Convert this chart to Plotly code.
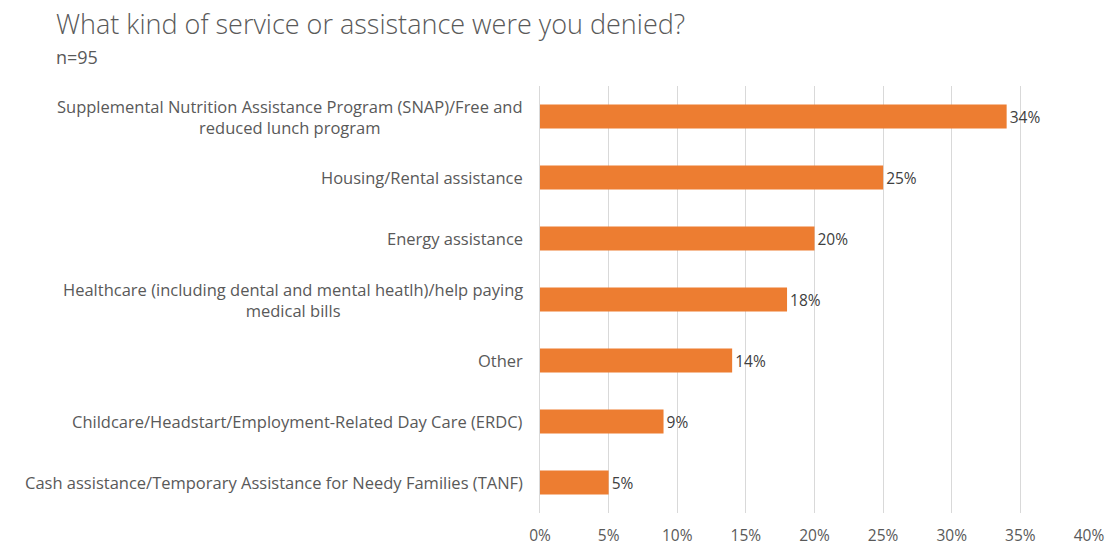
import plotly.graph_objects as go

# Survey responses: share of respondents denied each service (n=95)
categories = [
    "Supplemental Nutrition Assistance Program (SNAP)/Free and<br>reduced lunch program",
    "Housing/Rental assistance",
    "Energy assistance",
    "Healthcare (including dental and mental heatlh)/help paying<br>medical bills",
    "Other",
    "Childcare/Headstart/Employment-Related Day Care (ERDC)",
    "Cash assistance/Temporary Assistance for Needy Families (TANF)",
]
percent = [34, 25, 20, 18, 14, 9, 5]
x_ticks = [0, 5, 10, 15, 20, 25, 30, 35, 40]
x_tick_labels = [f"{v}%" for v in x_ticks]

title_text = "What kind of service or assistance were you denied?"
subtitle_text = "n=95"

FONT = "Open Sans"
GREY = "#595959"
BAR = "#ED7D31"

W, H = 1107, 544
L, R, T, B = 540, 18, 86, 31
plot_w = W - L - R
plot_h = H - T - B

# Index-based y so the multi-line category labels can be drawn as annotations
y_idx = list(range(len(categories)))

fig = go.Figure(
    go.Bar(
        x=percent,
        y=y_idx,
        orientation="h",
        marker=dict(color=BAR, line=dict(width=0)),
        text=[f"{v}%" for v in percent],
        textposition="outside",
        textfont=dict(family=FONT, size=15.5, color="#404040"),
        cliponaxis=False,
        width=0.39,
    )
)

# Category labels, right edge just left of the axis
annotations = []
for i, label in enumerate(categories):
    annotations.append(dict(
        text=label, x=0, xref="paper", y=i, yref="y",
        xanchor="right", yanchor="middle", xshift=-15, showarrow=False,
        align="center",
        font=dict(family=FONT, size=16.5, color=GREY),
    ))

annotations.append(dict(
    text=subtitle_text,
    x=(56 - L) / plot_w, xref="paper", xanchor="left",
    y=(H - B - 57) / plot_h, yref="paper", yanchor="middle",
    showarrow=False, xshift=-2,
    font=dict(family=FONT, size=18, color=GREY),
))

fig.update_layout(
    template="none",
    width=W,
    height=H,
    paper_bgcolor="white",
    plot_bgcolor="white",
    margin=dict(l=L, r=R, t=T, b=B, autoexpand=False),
    showlegend=False,
    title=dict(
        text=title_text,
        x=56 / W, xref="container", xanchor="left",
        y=1 - 25 / H, yref="container", yanchor="middle",
        font=dict(family=FONT, size=27, color=GREY, weight=300),
    ),
    annotations=annotations,
    xaxis=dict(
        range=[0, 40],
        tickvals=x_ticks,
        ticktext=x_tick_labels,
        showgrid=True,
        gridcolor="#D9D9D9",
        gridwidth=1,
        zeroline=False,
        showline=False,
        ticks="",
        ticklabelstandoff=11,
        tickfont=dict(family=FONT, size=15.5, color=GREY),
        automargin=False,
        fixedrange=True,
    ),
    yaxis=dict(
        range=[len(categories) - 0.5, -0.5],
        showticklabels=False,
        showgrid=False,
        zeroline=False,
        showline=True,
        linecolor="#D9D9D9",
        linewidth=1,
        ticks="",
        automargin=False,
        fixedrange=True,
    ),
)

fig.write_html("out.html")
